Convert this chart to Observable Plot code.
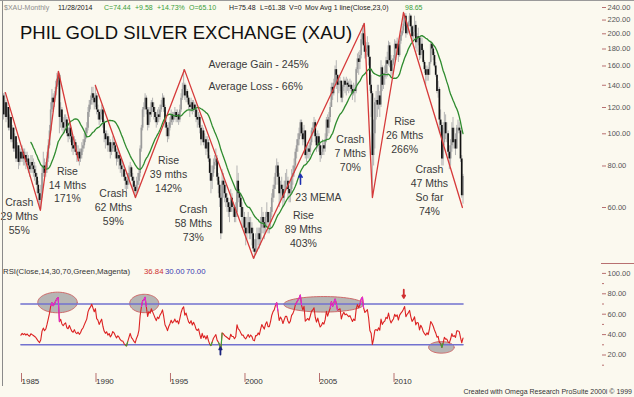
<!DOCTYPE html>
<html><head><meta charset="utf-8">
<script src="https://cdn.jsdelivr.net/npm/d3@7"></script>
<script src="https://cdn.jsdelivr.net/npm/@observablehq/plot@0.6"></script>
<style>
body{margin:0;background:#fbf9ef}
#wrap{position:relative;width:634px;height:397px;overflow:hidden;background:#fbf9ef;font-family:"Liberation Sans",Arial,sans-serif}
#main,#rsi,#over{position:absolute;left:0}
#main{top:0}#rsi{top:263px}#over{top:0;pointer-events:none}
</style></head>
<body><div id="wrap"><div id="main"></div><div id="rsi"></div>
<svg id="over" width="634" height="397" font-family="Liberation Sans, Arial, sans-serif"></svg></div>
<script>
// ---------- DATA (monthly, Jan 1984 .. Nov 2014) ----------
const startYear = 1984;
const firstOpen = 130;
const closes = [
114,124,112,120,104,112,96,104,90,98,84,92,
82,88,84,88,84,86,82,84,80,78,82,80,
78,76,74,70,66,63,66,76,80,76,78,84,
92,102,118,128,124,130,138,146,150,112,118,108,
104,108,110,100,98,104,98,92,90,94,88,86,
88,84,86,90,92,96,100,104,116,122,126,132,
128,124,130,118,116,110,114,118,108,100,96,98,
92,94,88,90,94,92,88,84,86,84,80,78,
78,74,72,70,73,76,79,74,72,69,67,70,
72,76,90,104,118,120,128,118,106,116,114,124,
120,116,112,108,114,112,118,122,128,120,108,104,
98,104,108,114,110,112,116,112,114,110,118,128,
136,140,130,134,128,122,120,124,118,122,118,112,
110,112,104,96,102,94,96,90,94,84,76,72,
76,80,82,84,74,70,64,50,72,70,66,64,
62,60,58,64,60,60,56,58,72,66,64,60,
56,56,52,50,52,54,50,52,50,45,44,48,
48,50,48,52,56,54,52,56,58,54,54,58,
64,68,70,76,80,74,66,70,68,64,68,72,
72,68,66,68,74,76,80,88,92,96,100,108,
100,96,102,86,88,90,88,94,102,104,108,98,
92,98,92,86,88,92,90,96,110,104,112,120,
138,132,142,156,150,140,142,144,128,138,144,140,
142,140,138,140,136,132,136,134,156,168,164,172,
192,200,184,176,180,184,170,140,132,86,100,124,
126,122,130,122,158,140,148,152,166,162,184,166,
154,162,168,186,180,186,172,190,198,204,214,226,
200,210,216,226,210,196,202,212,188,196,194,172,
186,178,164,156,150,156,150,164,186,180,172,160,
150,134,136,110,106,84,94,108,100,100,88,84,
92,104,94,96,90,104,104,102,84,65.1,74.44];
const highs = [
132,133,126,124,120,114,112,106,104,100,98,94,
92,90,90,92,90,90,88,88,86,82,86,86,
84,82,80,76,72,68,70,80,88,84,82,88,
96,106,124,136,132,134,144,152,154,152,124,120,
112,114,114,112,104,108,106,100,96,98,96,92,
92,90,90,94,96,100,104,108,120,126,130,138,
138,132,140,132,122,118,118,122,120,110,102,102,
100,98,96,94,98,96,94,90,90,88,86,84,
82,80,76,74,76,80,82,80,76,74,70,74,
76,78,92,106,120,124,132,130,120,120,120,126,
128,124,120,116,118,120,122,126,132,130,122,112,
106,108,112,118,116,116,120,118,118,116,122,132,
142,156,142,140,136,130,126,128,126,126,124,122,
118,116,114,106,106,104,100,98,98,96,86,80,
80,84,86,90,86,76,72,66,78,76,72,70,
66,64,62,68,66,62,60,62,80,76,68,66,
62,60,58,56,56,58,56,56,54,52,48,50,
52,52,52,56,60,58,56,58,62,58,58,60,
66,70,74,80,84,82,76,72,74,70,72,76,
78,74,70,72,78,80,84,90,96,100,104,110,
110,104,106,102,92,94,92,96,104,108,112,110,
100,102,100,94,92,96,94,100,112,114,116,124,
142,142,146,160,166,150,148,148,144,140,148,146,
148,146,144,146,144,140,142,140,158,174,176,178,
200,212,215,190,188,196,188,170,150,134,110,128,
134,140,140,134,166,160,152,160,170,176,190,188,
172,168,172,192,190,194,186,196,202,210,232,230,
230,214,218,230,228,212,210,226,218,200,208,196,
196,194,180,166,160,160,158,164,190,188,184,176,
164,150,144,138,118,108,104,116,114,108,102,92,
96,108,112,104,100,106,110,108,104,86,75.48];
const lows = [
110,112,108,110,102,102,94,94,88,88,82,82,
78,80,82,82,80,80,78,80,76,74,76,76,
74,72,70,66,62,60,59,64,74,72,74,76,
82,90,100,116,116,120,128,136,140,100,104,102,
100,100,104,98,94,96,94,88,86,88,86,82,
82,80,82,84,88,90,94,98,102,112,118,122,
122,118,120,114,110,106,108,110,104,94,90,92,
88,88,84,86,88,88,84,80,82,78,76,74,
74,72,68,66,68,70,74,72,68,66,64,66,
66,70,74,88,102,112,118,114,102,104,108,112,
116,110,108,104,106,108,110,116,120,116,104,98,
94,96,102,106,106,108,110,108,108,106,108,116,
126,130,126,124,124,118,112,116,114,116,112,108,
104,106,100,92,94,92,90,86,88,82,72,66,
68,74,78,80,72,66,60,48,50,64,62,60,
58,56,54,58,58,56,54,54,56,62,60,56,
52,52,50,46,48,50,48,48,46,44,42,43,
44,46,45,46,50,50,48,50,52,50,50,52,
56,62,64,68,74,70,60,62,64,60,62,66,
68,64,62,62,66,70,74,78,84,88,92,98,
96,92,94,84,82,84,84,86,92,98,100,94,
88,90,88,82,84,86,86,88,94,98,100,108,
120,126,130,140,136,124,132,134,124,124,134,132,
130,134,132,134,132,126,130,124,132,152,150,156,
168,186,176,168,170,172,160,134,112,64,80,90,
110,112,118,112,120,134,136,140,146,148,160,158,
148,150,160,166,166,176,164,170,186,196,200,210,
194,198,200,210,202,188,192,196,180,176,184,166,
168,174,162,152,140,144,144,150,162,174,166,158,
148,132,128,100,100,80,80,92,96,94,86,78,
80,88,90,90,86,90,100,100,82,64,61.38];

// red zig-zag pivots
const pivotDates  = ["1984-02-15","1986-06-20","1987-09-07","1989-01-10",
                     "1990-03-01","1992-11-07","1996-02-20","2000-10-10","2008-03-18","2008-10-03","2010-11-03","2014-10-18"];
const pivotValues = [133,58.8,154,83, 139.8,64.3,156,42.2,214.8,64.3,231.8,60];
const pivotGroups = [0,0,0,0, 1,1,1,1,1,1,1,1];

// annotations
const noteText  = ["Crash\n29 Mths\n55%","Rise\n14 Mths\n171%","Crash\n62 Mths\n59%","Rise\n39 mths\n142%",
                   "Crash\n58 Mths\n73%","23 MEMA","Rise\n89 Mths\n403%","Crash\n7 Mths\n70%","Rise\n26 Mths\n266%","Crash\n47 Mths\nSo far\n74%"];
const noteDates = ["1985-01-20","1988-04-15","1991-05-15","1995-01-25","1996-09-25","2005-02-15","2004-02-15","2007-04-10","2010-12-01","2012-07-30"];
const noteValues = [56.8,70.6,60.4,75.7,53.9,64.8,51.9,87.8,99.5,67.8];
const statText  = ["Average Gain - 245%","Average Loss - 66%"];
const statDates = ["1997-10-01","1997-10-01"];
const statValues = [161.7,138.8];

// RSI panel highlights
const ovalDates  = ["1987-08-15","1993-06-10","2005-06-28","2013-05-20"];
const ovalValues = [71.5,70.5,69.7,27.5];
const ovalMonths = [15.9,11.7,32.2,10.3];
const ovalUnits  = [10.1,9.0,7.6,5.7];

const priceTicks = [60,80,100,120,140,160,180,200,220,240];
const rsiTicks = [20,40,60,80,100];
const rsiMinorTicks = [10,30,50,70,90];
const yearTicks = [1985,1990,1995,2000,2005,2010];
const rsiPeriod = 14, maPeriod = 23, rsiLow = 30, rsiHigh = 70;

// ---------- derived tables ----------
const bars = closes.map((c, i) => ({
  date: new Date(Date.UTC(startYear, i, 1)),
  open: i ? closes[i - 1] : firstOpen, close: c, high: highs[i], low: lows[i]
}));
const ma = [];
for (let i = maPeriod - 1; i < closes.length; i++)
  ma.push({date: bars[i].date, value: d3.mean(closes.slice(i - maPeriod + 1, i + 1))});

function wilderRSI(c, n) {
  const out = new Array(c.length).fill(NaN);
  let g = 0, l = 0;
  for (let i = 1; i <= n; i++) { const d = c[i] - c[i-1]; if (d > 0) g += d; else l -= d; }
  g /= n; l /= n;
  out[n] = 100 - 100 / (1 + g / l);
  for (let i = n + 1; i < c.length; i++) {
    const d = c[i] - c[i-1];
    g = (g * (n - 1) + Math.max(d, 0)) / n;
    l = (l * (n - 1) + Math.max(-d, 0)) / n;
    out[i] = 100 - 100 / (1 + g / l);
  }
  return out;
}
const rsiVals = wilderRSI(closes, rsiPeriod);
const rsi = bars.map((b, i) => ({date: b.date, rsi: rsiVals[i]})).filter(d => !isNaN(d.rsi));
const hot = [], cold = [];
for (let i = 1; i < rsi.length; i++) {
  const seg = {x1: rsi[i-1].date, y1: rsi[i-1].rsi, x2: rsi[i].date, y2: rsi[i].rsi};
  if (seg.y1 > rsiHigh || seg.y2 > rsiHigh) hot.push(seg);
  if (seg.y1 < rsiLow || seg.y2 < rsiLow) cold.push(seg);
}
const pivots = pivotDates.map((d, i) => ({date: new Date(d), value: pivotValues[i], g: pivotGroups[i]}));
const notes = noteText.map((t, i) => ({text: t, date: new Date(noteDates[i]), value: noteValues[i]}));
const stats = statText.map((t, i) => ({text: t, date: new Date(statDates[i]), value: statValues[i]}));
const MS_MONTH = 30.44 * 864e5;
const ovals = [];
ovalDates.forEach((d, k) => {
  const c = +new Date(d);
  for (let j = 0; j <= 72; j++) {
    const a = 2 * Math.PI * j / 72;
    ovals.push({id: k, date: new Date(c + ovalMonths[k] * MS_MONTH * Math.cos(a)), v: ovalValues[k] + ovalUnits[k] * Math.sin(a)});
  }
});
const up = bars.filter(b => b.close >= b.open), down = bars.filter(b => b.close < b.open);
const yearDates = yearTicks.map(y => new Date(Date.UTC(y, 0, 1)));

const FONT = "Liberation Sans, Arial, sans-serif";
const AX = "#b87070";
const xScale = {type: "utc", domain: [new Date(Date.UTC(1985,0,1)), new Date(Date.UTC(2010,0,1))], range: [18, 390.5], axis: null};

const main = Plot.plot({
  width: 634, height: 263, marginLeft: 3, marginRight: 33, marginTop: 0, marginBottom: 0,
  style: {background: "none", fontFamily: FONT, overflow: "visible"},
  x: xScale,
  y: {type: "log", domain: [60, 240], range: [207, 7], axis: null},
  marks: [
    Plot.ruleX(bars, {x: "date", y1: "low", y2: "high", stroke: "#b4b4b4", strokeWidth: 1}),
    Plot.ruleX(up, {x: "date", y1: "open", y2: "close", stroke: "#9a9a9a", strokeWidth: 1.7}),
    Plot.ruleX(down, {x: "date", y1: "open", y2: "close", stroke: "#121212", strokeWidth: 1.7}),
    Plot.line(ma, {x: "date", y: "value", stroke: "#2e8b2e", strokeWidth: 1.3}),
    Plot.line(pivots, {x: "date", y: "value", z: "g", stroke: "#d63a3a", strokeWidth: 1.3}),
    Plot.arrow([{d: new Date("2003-12-05"), a: 70.5, b: 75.5}], {x1: "d", y1: "a", x2: "d", y2: "b", stroke: "#1d2fb0", strokeWidth: 1.6, headLength: 4}),
    Plot.text(notes, {x: "date", y: "value", text: "text", fontSize: 10.5, lineHeight: 1.33, fill: "#3a3a3a"}),
    Plot.text(stats, {x: "date", y: "value", text: "text", fontSize: 10.5, textAnchor: "start", fill: "#3a3a3a"}),
    Plot.axisY({ticks: priceTicks, anchor: "right", tickSize: 4, tickPadding: 2, tickFormat: d => d.toFixed(2), fontSize: 7.5, stroke: AX, fill: "#555", line: true})
  ]
});
document.getElementById("main").append(main);

const rsiChart = Plot.plot({
  width: 634, height: 134, marginLeft: 3, marginRight: 33, marginTop: 0, marginBottom: 24,
  style: {background: "none", fontFamily: FONT, overflow: "visible"},
  x: xScale,
  y: {domain: [rsiLow, rsiHigh], range: [81.3, 40.5], axis: null},
  marks: [
    Plot.line(ovals, {x: "date", y: "v", z: "id", fill: "#a9a9a9", fillOpacity: 0.85, stroke: "#cf6a6a", strokeWidth: 1}),
    Plot.lineY(rsi, {x: "date", y: () => rsiHigh, stroke: "#7272cf", strokeWidth: 1.6}),
    Plot.lineY(rsi, {x: "date", y: () => rsiLow, stroke: "#7272cf", strokeWidth: 1.6}),
    Plot.line(rsi, {x: "date", y: "rsi", stroke: "#dc2222", strokeWidth: 1.1}),
    Plot.link(hot, {x1: "x1", y1: "y1", x2: "x2", y2: "y2", stroke: "#e02ae0", strokeWidth: 1.1}),
    Plot.link(cold, {x1: "x1", y1: "y1", x2: "x2", y2: "y2", stroke: "#3aa53a", strokeWidth: 1.1}),
    Plot.arrow([{d: new Date("1998-07-22"), a: 20.5, b: 27.5}], {x1: "d", y1: "a", x2: "d", y2: "b", stroke: "#1a237e", strokeWidth: 1.8, headLength: 3.5}),
    Plot.arrow([{d: new Date("2010-11-10"), a: 84, b: 76}], {x1: "d", y1: "a", x2: "d", y2: "b", stroke: "#d03030", strokeWidth: 1.8, headLength: 3.5}),
    Plot.axisY({ticks: rsiTicks, anchor: "right", tickSize: 4, tickPadding: 2, tickFormat: d => d.toFixed(2), fontSize: 7.5, stroke: AX, fill: "#555", line: true}),
    Plot.axisY({ticks: rsiMinorTicks, anchor: "right", tickSize: 2, tickFormat: () => "", stroke: AX}),
    Plot.axisX({ticks: yearDates, anchor: "bottom", tickSize: 9, tickPadding: -4, textAnchor: "start", dx: 3, tickFormat: d => String(d.getUTCFullYear()), fontSize: 8, stroke: AX, fill: "#333", line: true})
  ]
});
document.getElementById("rsi").append(rsiChart);

// ---------- static text & frame ----------
const over = d3.select("#over");
over.append("line").attr("x1", 2.5).attr("x2", 2.5).attr("y1", 0).attr("y2", 386).attr("stroke", "#8a8a8a");
over.append("line").attr("x1", 0).attr("x2", 634).attr("y1", 0.5).attr("y2", 0.5).attr("stroke", "#9a9a9a");
over.append("line").attr("x1", 601).attr("x2", 634).attr("y1", 263.5).attr("y2", 263.5).attr("stroke", AX);
const header = [
  ["$XAU-Monthly", 4, "#8c8c8c"], ["11/28/2014", 58, "#222"], ["C=74.44", 104, "#3a9e3a"], ["+9.58", 135, "#3a9e3a"],
  ["+14.73%", 157, "#3a9e3a"], ["O=65.10", 189, "#3a9e3a"], ["H=75.48", 229, "#222"], ["L=61.38", 260, "#222"],
  ["V=0", 289, "#222"], ["Mov Avg 1 line(Close,23,0)", 305, "#222"], ["98.65", 405, "#3a9e3a"]
];
header.forEach(([t, x, c]) => over.append("text").attr("x", x).attr("y", 10).attr("font-size", 7).attr("fill", c).text(t));
over.append("text").attr("x", 20).attr("y", 39).attr("font-size", 18.5).attr("fill", "#111").text("PHIL GOLD SILVER EXCHANGE (XAU)");
const rsiHead = [["RSI(Close,14,30,70,Green,Magenta)", 3, "#333"], ["36.84", 144, "#d03030"], ["30.00", 165, "#3a3ab0"], ["70.00", 186, "#3a3ab0"]];
rsiHead.forEach(([t, x, c]) => over.append("text").attr("x", x).attr("y", 274).attr("font-size", 7.8).attr("fill", c).text(t));
over.append("text").attr("x", 632).attr("y", 394).attr("text-anchor", "end").attr("font-size", 7).attr("fill", "#333")
  .text("Created with Omega Research ProSuite 2000i \u00A9 1999");
</script></body></html>
